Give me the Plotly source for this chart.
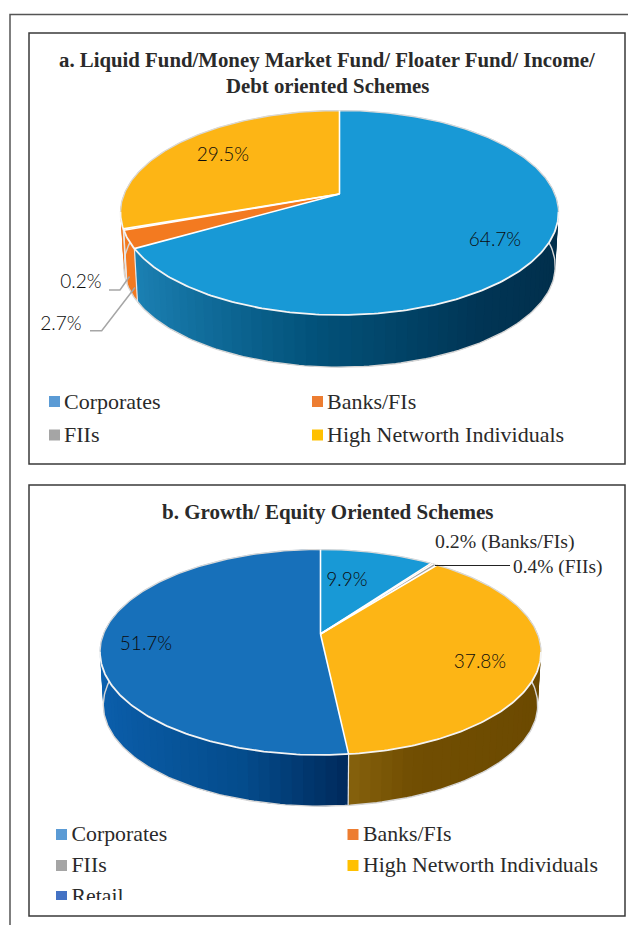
import numpy as np
import plotly.graph_objects as go

# ---------- data ----------
legend_a = ["Corporates", "Banks/FIs", "FIIs", "High Networth Individuals"]
values_a = [64.7, 2.7, 0.2, 29.5]
legend_b = ["Corporates", "Banks/FIs", "FIIs", "High Networth Individuals", "Retail"]
values_b = [9.9, 0.2, 0.4, 37.8, 51.7]
title_a = ["a. Liquid Fund/Money Market Fund/ Floater Fund/ Income/", "Debt oriented Schemes"]
title_b = "b. Growth/ Equity Oriented Schemes"

# ---------- styles ----------
legend_colors = ["#5B9BD5", "#ED7D31", "#A5A5A5", "#FFC000", "#4472C4"]
face_a = ["#1899D6", "#F37A20", "#A0A0A0", "#FDB515"]
face_b = ["#1899D6", "#F37A20", "#A0A0A0", "#FDB515", "#1770BA"]
wall_a = [
    [(-1.0, "#2089BE"), (-0.1, "#02527A"), (0.55, "#013555"), (1.0, "#012E4A")],
    [(-1.0, "#F37A20"), (1.0, "#F37A20")],
    [(-1.0, "#F37A20"), (1.0, "#F37A20")],
    [(-1.0, "#F37A20"), (1.0, "#F37A20")],
]
wall_b = [
    [(-1.0, "#0F6FB0"), (1.0, "#004A78")],
    [(-1.0, "#C0611A"), (1.0, "#C0611A")],
    [(-1.0, "#808080"), (1.0, "#808080")],
    [(0.0, "#8F6A12"), (0.35, "#714E02"), (1.0, "#6B4900")],
    [(-1.0, "#0C60AE"), (-0.3, "#044C8C"), (0.1, "#002A5C"), (1.0, "#002A5C")],
]
geom_a = dict(cx=339.5, cy=194.0, a=215.3, b=98.8, k=0.1834, h=54.0, s=0.985)
geom_b = dict(cx=320.5, cy=634.0, a=217.0, b=99.5, k=0.1776, h=53.0, s=0.985)
SERIF = "Liberation Serif"
SANS = "Lato"
INK = "#2a2a2a"


def hex_rgb(c):
    return np.array([int(c[i:i + 2], 16) for i in (1, 3, 5)], dtype=float)


def ramp(stops, t):
    ts = [s[0] for s in stops]
    rgb = [np.interp(t, ts, [hex_rgb(s[1])[i] for s in stops]) for i in range(3)]
    return "rgb(%d,%d,%d)" % tuple(round(c) for c in rgb)


def project(theta, g, lower=False):
    u, v = np.sin(theta), np.cos(theta)
    d = 1 + g["k"] * v
    if lower:
        return g["cx"] + g["s"] * g["a"] * u / d, g["cy"] + g["h"] - g["s"] * g["b"] * v / d
    return g["cx"] + g["a"] * u / d, g["cy"] - g["b"] * v / d


fig = go.Figure()


def add_line(x, y, color, width):
    fig.add_trace(go.Scatter(x=list(x), y=list(y), mode="lines", line=dict(color=color, width=width),
                             showlegend=False, hoverinfo="skip"))


def add_fill(x, y, color, line_w=0.0):
    fig.add_trace(go.Scatter(x=list(x), y=list(y), mode="lines", fill="toself", fillcolor=color,
                             line=dict(color=color, width=line_w), showlegend=False, hoverinfo="skip"))


def draw_pie(values, faces, walls, g):
    fr = np.cumsum([0] + list(values)) / sum(values) * 2 * np.pi
    overlap = np.radians(2.5)
    # side wall: each strip overlaps its neighbour so that no seam shows
    for i in range(len(values)):
        lo, hi = fr[i], fr[i + 1]
        n = max(1, int(np.ceil((hi - lo) / np.radians(2.5))))
        edges = np.linspace(lo, hi, n + 1)
        for t0, t1 in zip(edges[:-1], edges[1:]):
            mid = (t0 + t1) / 2
            if np.cos(mid) > 0.25:
                continue
            th = np.linspace(t0, min(t1 + overlap, hi), 5)
            xt, yt = project(th, g)
            xb, yb = project(th[::-1], g, lower=True)
            add_fill(np.r_[xt, xb], np.r_[yt, yb], ramp(walls[i], np.sin(mid)), 0)
    # bottom rim
    th = np.linspace(np.radians(85), np.radians(275), 160)
    add_line(*project(th, g, lower=True), "#D6D6D6", 1.4)
    # seams between wall pieces on the visible side
    for t in fr[:-1]:
        if np.cos(t) < -0.1 and abs(np.sin(t)) < 0.97:
            xt, yt = project(t, g)
            xb, yb = project(t, g, lower=True)
            add_line([xt, xb], [yt, yb], "#E8E8E8", 1.2)
    # top face
    for i in range(len(values)):
        th = np.linspace(fr[i], fr[i + 1], max(3, int((fr[i + 1] - fr[i]) * 90)))
        x, y = project(th, g)
        add_fill(np.r_[g["cx"], x, g["cx"]], np.r_[g["cy"], y, g["cy"]], faces[i], 0.3)
    # rim of the face: grey at the back, white at the front
    th = np.linspace(-np.radians(100), np.radians(100), 200)
    add_line(*project(th, g), "#D8D8D8", 1.3)
    th = np.linspace(np.radians(100), np.radians(260), 200)
    add_line(*project(th, g), "#F4F4F4", 1.8)
    # radial separators
    for t in fr[:-1]:
        x, y = project(t, g)
        add_line([g["cx"], x], [g["cy"], y], "#FFFFFF", 1.6)


draw_pie(values_a, face_a, wall_a, geom_a)
draw_pie(values_b, face_b, wall_b, geom_b)


def add_text(x, y, text, size, family=SERIF, anchor="middle center", xaxis="x", yaxis="y", color=INK, weight="normal"):
    fig.add_trace(go.Scatter(x=[x], y=[y], text=[text], mode="text", textposition=anchor,
                             textfont=dict(family=family, size=size, color=color, weight=weight),
                             xaxis=xaxis, yaxis=yaxis, showlegend=False, hoverinfo="skip"))


def add_square(x, y, color, xaxis="x", yaxis="y"):
    fig.add_trace(go.Scatter(x=[x], y=[y], mode="markers",
                             marker=dict(symbol="square", size=11, color=color, line=dict(width=0)),
                             xaxis=xaxis, yaxis=yaxis, showlegend=False, hoverinfo="skip"))


# slice labels
pct = lambda v: f"{v}%"
DARK = "#0c0c0c"
add_text(495, 241, pct(values_a[0]), 19, SANS, color=DARK, weight=300)
add_text(223, 156, pct(values_a[3]), 19, SANS, color=DARK, weight=300)
add_text(81, 283, pct(values_a[2]), 19, SANS, color=DARK, weight=300)
add_text(61, 325, pct(values_a[1]), 19, SANS, color=DARK, weight=300)
add_text(347, 581, pct(values_b[0]), 19, SANS, color=DARK, weight=300)
add_text(480, 663, pct(values_b[3]), 19, SANS, color=DARK, weight=300)
add_text(146, 645, pct(values_b[4]), 19, SANS, color=DARK, weight=300)
add_text(435, 543.5, f"{values_b[1]}% ({legend_b[1]})", 19.8, SERIF, "middle right")
add_text(513, 568.5, f"{values_b[2]}% ({legend_b[2]})", 19.4, SERIF, "middle right")

# leader lines
add_line([109, 120, 129.5], [290, 290, 276.5], "#A6A6A6", 1.5)
add_line([90, 101.7, 135], [330.7, 330.7, 287.5], "#A6A6A6", 1.5)
add_line([510, 435], [565.5, 565.5], "#222222", 1)

# legends
rows_a = [(54.5, 401.5, 0), (317.5, 401.5, 1), (54.5, 435, 2), (317.5, 435, 3)]
for x, y, i in rows_a:
    add_square(x, y, legend_colors[i])
    add_text(x + 9.5, y + 1.5, legend_a[i], 22, SERIF, "middle right")
rows_b = [(61.5, 834.5, 0), (353, 834.5, 1), (61.5, 865.5, 2), (353, 865.5, 3)]
for x, y, i in rows_b:
    add_square(x, y, legend_colors[i])
    add_text(x + 10, y + 1.5, legend_b[i], 21.8, SERIF, "middle right")
# last legend row is cut off by the chart's lower edge
add_square(61.5, 896.5, legend_colors[4], "x2", "y2")
add_text(71.5, 898, legend_b[4], 21.8, SERIF, "middle right", "x2", "y2")

# titles
annots = []
for y, t, cx, sz in [(60, title_a[0], 326.5, 20.8), (85, title_a[1], 327, 20.8), (512, title_b, 327.5, 21)]:
    annots.append(dict(x=cx, y=y, xref="x", yref="y", text=f"<b>{t}</b>", showarrow=False,
                       font=dict(family=SERIF, size=sz, color=INK), xanchor="center", yanchor="middle"))

shapes = [
    dict(type="rect", xref="x", yref="y", x0=29, y0=33, x1=625, y1=464, line=dict(color="#3A3A3A", width=1.5)),
    dict(type="rect", xref="x", yref="y", x0=29, y0=485, x1=625, y1=916, line=dict(color="#3A3A3A", width=1.5)),
    dict(type="path", xref="x", yref="y", path="M 10 925 L 10 14.5 L 628 14.5", line=dict(color="#555555", width=1.5)),
]

hidden = dict(visible=False, fixedrange=True)
fig.update_layout(
    width=628, height=925, autosize=False, margin=dict(l=0, r=0, t=0, b=0),
    paper_bgcolor="white", plot_bgcolor="rgba(0,0,0,0)", showlegend=False,
    xaxis=dict(range=[0, 628], domain=[0, 1], **hidden),
    yaxis=dict(range=[925, 0], domain=[0, 1], **hidden),
    xaxis2=dict(range=[0, 628], domain=[0, 1], anchor="y2", **hidden),
    yaxis2=dict(range=[900, 0], domain=[25 / 925, 1], anchor="x2", **hidden),
    annotations=annots, shapes=shapes,
)
fig.write_html("out.html", config=dict(displayModeBar=False),
               post_script="document.body.style.margin='0';document.body.style.overflow='hidden';")
